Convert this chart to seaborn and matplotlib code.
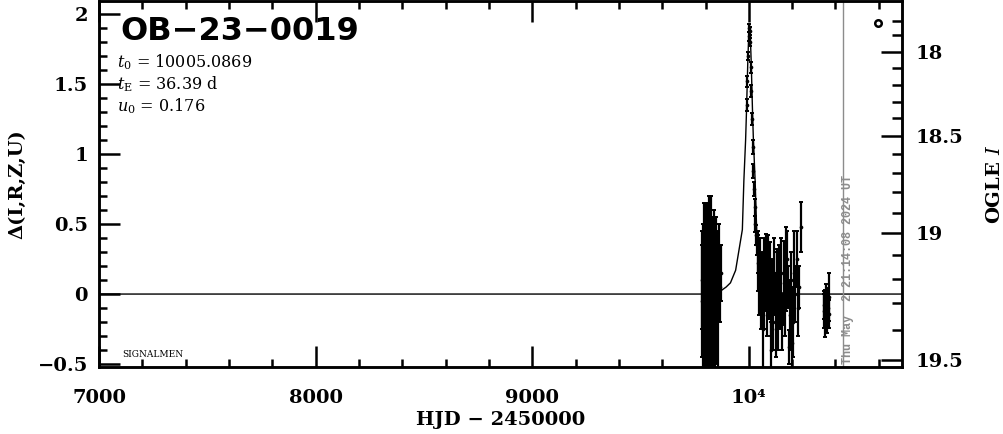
import matplotlib
matplotlib.use("Agg")
import matplotlib.pyplot as plt
import numpy as np
import seaborn as sns
from matplotlib.ticker import MultipleLocator

# ===========================
# DATA
# ===========================
EVENT_NAME = "OB\u221223\u22120019"
T0_TEXT = "10005.0869"
TE_TEXT = "36.39 d"
U0_TEXT = "0.176"
NOW_TEXT = "Thu May  2 21:14:08 2024 UT"
NOW_HJD = 10433.0

# model curve, Delta vs HJD-2450000
model_t = [7000, 9800, 9860, 9877, 9895, 9915, 9939, 9954, 9970, 9977, 9985, 9989,
           9995, 10000, 10003, 10006, 10011, 10017, 10021, 10029, 10036, 10052,
           10067, 10091, 10111, 10129, 10146, 10200, 10707]
model_delta = [0.0, 0.0, 0.01, 0.03, 0.05, 0.08, 0.17, 0.31, 0.46, 0.81, 1.10, 1.30,
               1.65, 1.88, 1.92, 1.88, 1.65, 1.30, 1.10, 0.81, 0.46, 0.31,
               0.17, 0.08, 0.05, 0.03, 0.01, 0.0, 0.0]

# season 1 (pre-event, dense and noisy)
s1_t = [9783, 9785, 9787, 9789, 9791, 9793, 9795, 9797, 9799, 9801, 9803, 9805, 9807,
        9809, 9811, 9813, 9815, 9817, 9819, 9821, 9823, 9825, 9827, 9829, 9831, 9833,
        9835, 9837, 9839, 9841, 9843, 9845, 9847, 9849, 9852, 9856, 9861, 9866, 9872]
s1_delta = [0.10, -0.05, 0.20, -0.15, 0.05, 0.25, -0.10, 0.00, 0.15, -0.20, 0.30, 0.05,
            -0.05, 0.10, -0.25, 0.20, 0.00, 0.35, -0.10, 0.10, 0.15, -0.05, 0.30, -0.15,
            0.05, 0.20, -0.20, 0.10, 0.00, 0.25, -0.10, 0.15, -0.05, 0.05, 0.10, -0.15,
            0.20, 0.05, 0.15]
s1_err = [0.35, 0.40, 0.30, 0.45, 0.35, 0.40, 0.50, 0.45, 0.35, 0.45, 0.35, 0.50, 0.45,
          0.40, 0.40, 0.45, 0.55, 0.35, 0.50, 0.45, 0.40, 0.55, 0.40, 0.45, 0.50, 0.35,
          0.40, 0.50, 0.45, 0.30, 0.50, 0.40, 0.45, 0.50, 0.35, 0.40, 0.30, 0.25, 0.20]

# peak
pk_t = [9990, 9993, 9996, 9999, 10001, 10003, 10006, 10009, 10012, 10015, 10018,
        10021, 10024, 10027, 10030, 10033, 10036]
pk_delta = [1.35, 1.52, 1.70, 1.84, 1.90, 1.88, 1.80, 1.62, 1.45, 1.25, 1.05,
            0.88, 0.75, 0.62, 0.50, 0.42, 0.35]
pk_err = [0.04, 0.04, 0.03, 0.03, 0.03, 0.03, 0.03, 0.04, 0.04, 0.04, 0.05,
          0.05, 0.05, 0.06, 0.06, 0.07, 0.07]

# post-peak season
s2_t = [10040, 10044, 10048, 10052, 10056, 10060, 10064, 10068, 10072, 10076, 10080,
        10084, 10088, 10092, 10096, 10100, 10104, 10108, 10112, 10116, 10120, 10124,
        10128, 10132, 10136, 10140, 10145, 10150, 10155, 10160, 10165, 10170, 10175,
        10180, 10185, 10190, 10195, 10200, 10205, 10210, 10215, 10220, 10226, 10232,
        10241]
s2_delta = [0.30, 0.22, 0.10, 0.25, -0.05, 0.15, -0.25, 0.20, -0.10, 0.08, 0.18,
            -0.15, 0.12, 0.02, 0.22, -0.05, -0.40, 0.10, -0.20, 0.15, 0.00, -0.25,
            0.12, 0.05, -0.10, 0.20, -0.05, 0.15, -0.20, 0.08, -0.10, 0.18, 0.25,
            0.05, -0.38, -0.15, 0.10, -0.35, -0.20, 0.15, 0.00, 0.25, -0.10, 0.05,
            0.48]
s2_err = [0.15, 0.20, 0.25, 0.15, 0.20, 0.15, 0.35, 0.20, 0.15, 0.20, 0.25,
          0.15, 0.30, 0.20, 0.15, 0.25, 0.20, 0.15, 0.20, 0.25, 0.15, 0.20,
          0.20, 0.25, 0.30, 0.15, 0.20, 0.25, 0.20, 0.30, 0.20, 0.30, 0.20,
          0.15, 0.12, 0.25, 0.20, 0.25, 0.25, 0.30, 0.20, 0.20, 0.20, 0.15,
          0.18]

# late season
s3_t = [10345, 10349, 10352, 10355, 10358, 10361, 10364, 10368, 10370]
s3_delta = [-0.12, -0.08, -0.14, -0.15, -0.05, -0.18, -0.10, -0.02, -0.14]
s3_err = [0.12, 0.10, 0.17, 0.08, 0.12, 0.10, 0.14, 0.17, 0.10]

# symbol in the upper right corner
corner_t = [10594]
corner_delta = [1.936]

# axis ticks
x_major = [7000, 8000, 9000, 10000]
x_major_labels = ["7000", "8000", "9000", "10\u2074"]
y_major = [-0.5, 0, 0.5, 1, 1.5, 2]
y_major_labels = ["\u22120.5", "0", "0.5", "1", "1.5", "2"]
ogle_major_mag = ["18", "18.5", "19", "19.5"]
ogle_major_delta = [1.731, 1.129, 0.434, -0.471]
ogle_minor_delta = [1.95, 1.85, 1.612, 1.493, 1.374, 1.255, 0.998, 0.862, 0.727,
                    0.581, 0.279, 0.105, -0.062, -0.257]

XLIM = (7000, 10707)
YLIM = (-0.521, 2.093)

# ===========================
# STYLE
# ===========================
sns.set_theme(style="ticks")
plt.rcParams["font.family"] = ["DejaVu Serif"]
plt.rcParams["mathtext.fontset"] = "dejavuserif"
plt.rcParams["axes.linewidth"] = 1.8
plt.rcParams["axes.edgecolor"] = "black"
plt.rcParams["text.color"] = "black"
plt.rcParams["axes.labelcolor"] = "black"
plt.rcParams["xtick.color"] = "black"
plt.rcParams["ytick.color"] = "black"

fig = plt.figure(figsize=(10.04, 4.34), dpi=100)
ax = fig.add_axes([99 / 1004, 67 / 434, 803 / 1004, 366 / 434])

# ===========================
# PLOT
# ===========================
sns.lineplot(x=model_t, y=model_delta, ax=ax, color="black", lw=1.0,
             estimator=None, sort=False)

for t, d, e in [(s1_t, s1_delta, s1_err), (pk_t, pk_delta, pk_err),
                (s2_t, s2_delta, s2_err), (s3_t, s3_delta, s3_err)]:
    ax.errorbar(t, d, yerr=e, fmt="none", ecolor="black", elinewidth=1.6,
                capsize=1.5, capthick=1.4)
    sns.scatterplot(x=t, y=d, ax=ax, color="black", s=7, linewidth=0)

sns.scatterplot(x=corner_t, y=corner_delta, ax=ax, marker="o", s=22,
                facecolor="white", edgecolor="black", linewidth=1.8)

ax.axvline(NOW_HJD, color="#8c8c8c", lw=1.0)
ax.text(NOW_HJD + 25, YLIM[0] + 0.02, NOW_TEXT, rotation=90, ha="center",
        va="bottom", color="#8c8c8c", fontsize=8.5, fontweight="bold",
        family="Liberation Mono")

ax.set_xlim(*XLIM)
ax.set_ylim(*YLIM)

ax.set_xticks(x_major, labels=x_major_labels)
ax.xaxis.set_minor_locator(MultipleLocator(200))
ax.set_yticks(y_major, labels=y_major_labels)
ax.yaxis.set_minor_locator(MultipleLocator(0.1))

ax.tick_params(which="both", direction="in", top=True, right=False, width=1.8,
               labelsize=14)
ax.tick_params(which="major", length=15)
ax.tick_params(which="minor", length=6)
ax.tick_params(axis="x", pad=16)
ax.tick_params(axis="y", pad=8)
for lab in ax.get_xticklabels() + ax.get_yticklabels():
    lab.set_fontweight("bold")

ax.set_xlabel("HJD \u2212 2450000", fontsize=14, fontweight="bold", labelpad=3)
ax.set_ylabel("\u0394(I,R,Z,U)", fontsize=14, fontweight="bold", labelpad=8)

# right axis: OGLE I magnitude
ax2 = ax.twinx()
ax2.set_ylim(*YLIM)
ax2.set_yticks(ogle_major_delta, labels=ogle_major_mag)
ax2.set_yticks(ogle_minor_delta, minor=True)
ax2.tick_params(which="both", direction="in", width=1.8, labelsize=14, pad=10)
ax2.tick_params(which="major", length=15)
ax2.tick_params(which="minor", length=7)
for lab in ax2.get_yticklabels():
    lab.set_fontweight("bold")
ax2.set_ylabel("OGLE $\\mathit{I}$", fontsize=14, fontweight="bold",
               rotation=90, labelpad=16)
ax2.grid(False)

# annotations
ax.text(0.026, 0.918, EVENT_NAME, transform=ax.transAxes, fontsize=23,
        fontweight="bold", family="DejaVu Sans", va="center", ha="left")
ax.text(0.022, 0.833, r"$t_0$ = " + T0_TEXT, transform=ax.transAxes,
        fontsize=11.5, va="center", ha="left")
ax.text(0.022, 0.773, r"$t_{\rm E}$ = " + TE_TEXT, transform=ax.transAxes,
        fontsize=11.5, va="center", ha="left")
ax.text(0.022, 0.713, r"$u_0$ = " + U0_TEXT, transform=ax.transAxes,
        fontsize=11.5, va="center", ha="left")
ax.text(0.0286, 0.033, "SIGNALMEN", transform=ax.transAxes, fontsize=6.5,
        va="center", ha="left")

fig.savefig("out.png", dpi=100)
